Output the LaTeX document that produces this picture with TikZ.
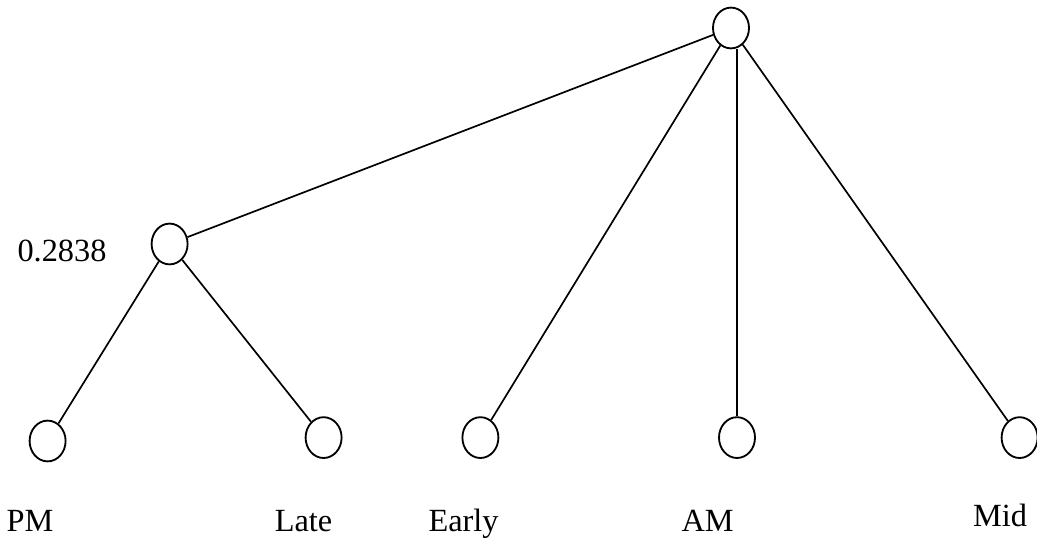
\documentclass[tikz,border=0pt]{standalone}
\usepackage{fontspec}
\setmainfont{Liberation Serif}
\usepackage{tikz}
\usetikzlibrary{shapes.geometric}
\tikzset{
	vertex/.style={draw,ellipse,line width=1.3pt,minimum width=0.9cm,minimum height=1.02cm,inner sep=0pt},
	branch/.style={line width=1.2pt},
	tag/.style={font=\fontsize{23}{27}\selectfont,anchor=base,inner sep=0pt}
}

\begin{document}
\begin{tikzpicture}[transform shape,scale=1]
		\useasboundingbox (0,0) rectangle (25.925,13.6);
		% vertices
		\node[vertex] (root) at (18.275,12.9) {};
		\node[vertex] (cluster) at (4.24,7.5) {};
		\node[vertex] (pm) at (1.19,2.575) {};
		\node[vertex] (late) at (8.09,2.66) {};
		\node[vertex] (early) at (12.01,2.66) {};
		\node[vertex] (am) at (18.425,2.66) {};
		\node[vertex] (mid) at (25.49,2.66) {};
		% branches
		\draw[branch] (root) -- (cluster);
		\draw[branch] (root) -- (early);
		\draw[branch] (root.south -| am) -- (am);
		\draw[branch] (root) -- (mid);
		\draw[branch] (cluster) -- (pm);
		\draw[branch] (cluster) -- (late);
		% labels
		\node[tag] (height) at (1.55,7.05) {0.2838};
		\node[tag] (pmtext) at (0.75,0.3) {PM};
		\node[tag] (latetext) at (7.59,0.3) {Late};
		\node[tag] (earlytext) at (11.59,0.3) {Early};
		\node[tag] (amtext) at (17.69,0.3) {AM};
		\node[tag] (midtext) at (25.0,0.425) {Mid};
	\end{tikzpicture}
\end{document}
